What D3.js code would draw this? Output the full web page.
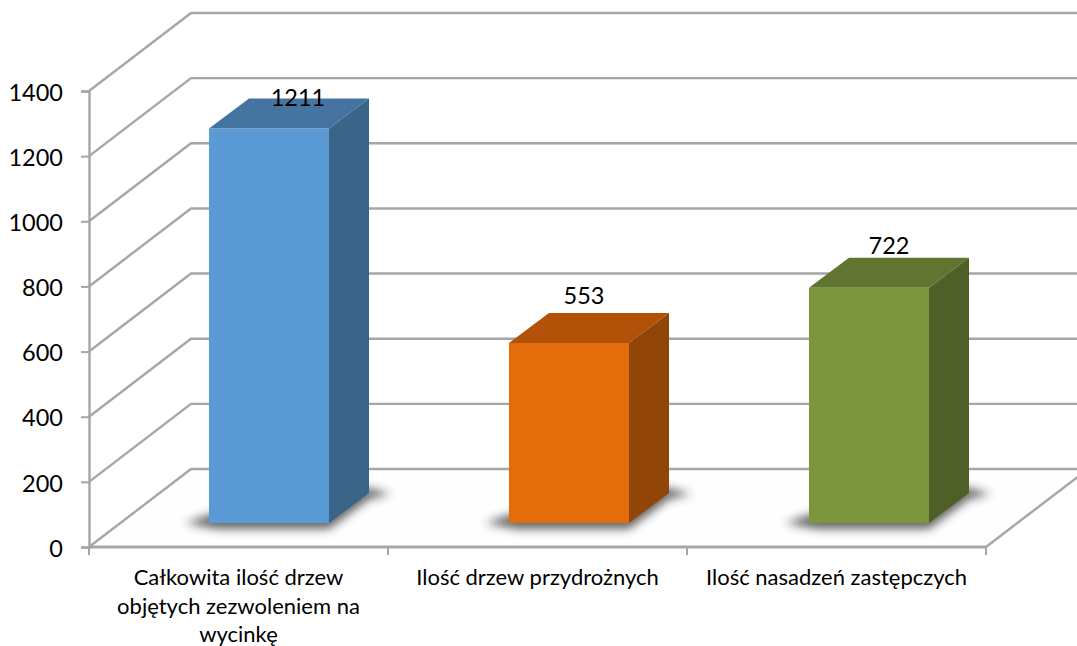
<!DOCTYPE html>
<html><head><meta charset="utf-8">
<script src="https://cdn.jsdelivr.net/npm/d3@7/dist/d3.min.js"></script>
<style>html,body{margin:0;padding:0;background:#fff}svg{display:block}text{font-family:Lato,"Open Sans",sans-serif;fill:#000}</style>
</head><body><svg id="c" width="1077" height="646"></svg>
<script>
const categories=[["Całkowita ilość drzew","objętych zezwoleniem na","wycinkę"],["Ilość drzew przydrożnych"],["Ilość nasadzeń zastępczych"]];
const values=[1211,553,722];
const yTicks=[0,200,400,600,800,1000,1200,1400];
const frontColors=["#5b9bd5","#e46c0a","#7c963e"];
const topColors=["#4674a1","#b15208","#5f7530"];
const sideColors=["#3a6488","#914607","#4e6028"];
const labelNudgeX=[9,-5,0];
const labelNudgeY=[7,-9,-4];

const W=1077,H=646;
const svg=d3.select("#c");
const x=d3.scaleBand().domain(d3.range(categories.length)).range([89,986]);
const barX=d3.scalePoint().domain(d3.range(categories.length)).range([209,809]);
const y=d3.scaleLinear().domain([0,1400]).range([547,91]);
const depthX=102,depthY=78;
const barW=120,barOffY=24,barDX=40,barDY=30;
const grid="#a6a6a6";

const defs=svg.append("defs");
defs.append("filter").attr("id","sh").attr("x","-30%").attr("y","-50%").attr("width","160%").attr("height","200%")
  .append("feGaussianBlur").attr("stdDeviation",5);
defs.append("clipPath").attr("id","page").append("rect").attr("width",W).attr("height",H);

const root=svg.append("g").attr("clip-path","url(#page)");
root.append("polygon").attr("fill","#fefefe")
 .attr("points",[[x.range()[0],y(0)],[x.range()[1],y(0)],[x.range()[1]+depthX,y(0)-depthY],[x.range()[0]+depthX,y(0)-depthY]].join(" "));

const gl=root.append("g").attr("fill","none").attr("stroke",grid).attr("stroke-width",2.4);
yTicks.forEach(t=>{
  gl.append("path").attr("d",d3.line()([[x.range()[0],y(t)],[x.range()[0]+depthX,y(t)-depthY],[x.range()[1]+depthX,y(t)-depthY]]));
});
gl.append("path").attr("d",d3.line()([[x.range()[1],y(0)],[x.range()[1]+depthX,y(0)-depthY]]));

const yAxis=root.append("g").attr("transform",`translate(${x.range()[0]},0)`)
 .call(d3.axisLeft(y).tickValues(yTicks).tickSize(8).tickPadding(18).tickFormat(d3.format("d")));
yAxis.select(".domain").attr("stroke",grid).attr("stroke-width",2.4);
yAxis.selectAll(".tick line").attr("stroke",grid).attr("stroke-width",2);
yAxis.selectAll("text").attr("font-size",23.5).attr("dy","0.39em").style("font-family","Lato").attr("fill","#000");

const xAxis=root.append("g").attr("transform",`translate(0,${y(0)})`);
xAxis.append("path").attr("d",d3.line()([[x.range()[0],0],[x.range()[1],0]])).attr("stroke",grid).attr("stroke-width",3);
[...x.domain().map(d=>x(d)),x.range()[1]].forEach(p=>{
  xAxis.append("line").attr("x1",p).attr("x2",p).attr("y1",0).attr("y2",8).attr("stroke",grid).attr("stroke-width",2);
});
categories.forEach((lines,i)=>{
  const t=root.append("text").attr("text-anchor","middle").attr("font-size",22);
  lines.forEach((s,j)=>t.append("tspan").attr("x",x(i)+x.bandwidth()/2).attr("y",585+j*28.5).text(s));
});

values.forEach((v,i)=>{
  const x0=barX(i), x1=x0+barW, b=y(0)-barOffY, t=b-(y(0)-y(v));
  const g=root.append("g");
  g.append("polygon").attr("fill","#303030").attr("opacity",.75).attr("filter","url(#sh)")
   .attr("points",[[x0-24,b],[x0+8,b+6],[x1,b+6],[x1+barDX,b-barDY+6],[x1+barDX+22,b-barDY+1],[x1+barDX,b-barDY-5],[x0,b-8]].join(" "));
  g.append("rect").attr("x",x0).attr("y",t).attr("width",barW).attr("height",b-t).attr("fill",frontColors[i]);
  g.append("polygon").attr("fill",topColors[i])
   .attr("points",[[x0,t],[x0+barDX,t-barDY],[x1+barDX,t-barDY],[x1,t]].join(" "));
  g.append("polygon").attr("fill",sideColors[i])
   .attr("points",[[x1,t],[x1+barDX,t-barDY],[x1+barDX,b-barDY],[x1,b]].join(" "));
  root.append("text").attr("text-anchor","middle").attr("font-size",23.5)
   .attr("x",x0+barW/2+barDX/2+labelNudgeX[i]).attr("y",t-barDY+labelNudgeY[i]).text(v);
});
</script></body></html>
